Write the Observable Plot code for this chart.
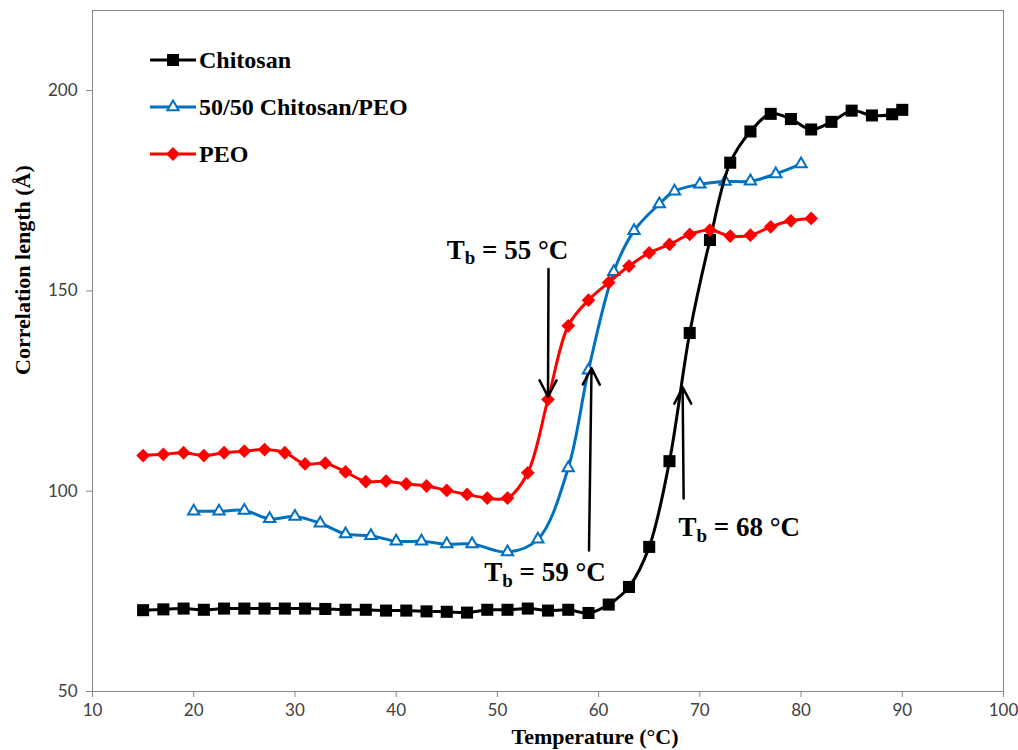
<!DOCTYPE html>
<html><head><meta charset="utf-8">
<script src="https://cdn.jsdelivr.net/npm/d3@7"></script>
<script src="https://cdn.jsdelivr.net/npm/@observablehq/plot@0.6"></script>
<style>
body{margin:0;background:#fff}
#wrap{position:relative;width:1018px;height:750px;overflow:hidden}
.leg{position:absolute;display:flex;align-items:center;height:30px;font-family:"Liberation Serif",serif;font-weight:bold;font-size:24px;color:#000}
.leg svg{display:block}
</style>
</head><body><div id="wrap"></div>
<script>
// ---- data ----
const seriesNames = ["Chitosan", "50/50 Chitosan/PEO", "PEO"];
const seriesColors = ["#000000", "#0070C0", "#FF0000"];

const xChitosan = [15,17,19,21,23,25,27,29,31,33,35,37,39,41,43,45,47,49,51,53,55,57,59,61,63,65,67,69,71,73,75,77,79,81,83,85,87,89,90];
const yChitosan = [70.3,70.5,70.7,70.4,70.7,70.7,70.7,70.7,70.7,70.6,70.4,70.4,70.2,70.2,70.0,69.9,69.7,70.4,70.4,70.7,70.2,70.4,69.6,71.7,76.1,86.1,107.5,139.5,162.7,182.0,189.8,194.2,192.9,190.3,192.2,195.0,193.8,194.1,195.2];

const xBlend = [20,22.5,25,27.5,30,32.5,35,37.5,40,42.5,45,47.5,51,54,57,59,61.5,63.5,66,67.5,70,72.5,75,77.5,80];
const yBlend = [95.0,95.0,95.2,93.1,93.7,92.0,89.3,88.9,87.5,87.5,86.8,86.8,84.8,88.0,105.8,130.2,154.8,165.0,171.7,174.9,176.6,177.3,177.4,179.2,181.7];

const xPEO = [15,17,19,21,23,25,27,29,31,33,35,37,39,41,43,45,47,49,51,53,55,57,59,61,63,65,67,69,71,73,75,77,79,81];
const yPEO = [108.9,109.2,109.6,108.9,109.6,110.0,110.4,109.6,106.8,107.0,104.8,102.4,102.5,101.8,101.3,100.2,99.2,98.3,98.3,104.6,122.9,141.3,147.7,152.1,156.2,159.5,161.6,164.1,165.2,163.7,163.9,166.0,167.5,168.1];

const xTicks = [10,20,30,40,50,60,70,80,90,100];
const yTicks = [50,100,150,200];
const xLabel = "Temperature (°C)";
const yLabel = "Correlation length (Å)";

// annotations (transition temperatures)
const annoTemps = [55, 59, 68];
const annoX = [51.0, 54.7, 73.9];
const annoY = [160.2, 79.7, 90.9];
const arrowX1 = [55.05, 59.05, 68.4];
const arrowY1 = [155.5, 85.2, 98.2];
const arrowX2 = [55.0, 59.3, 68.3];
const arrowY2 = [123.6, 130.7, 125.9];

// ---- build ----
const rows = (xs, ys, name) => xs.map((x, i) => ({x, y: ys[i], name}));
const chit = rows(xChitosan, yChitosan, seriesNames[0]);
const blend = rows(xBlend, yBlend, seriesNames[1]);
const peo = rows(xPEO, yPEO, seriesNames[2]);
const idx = annoTemps.map((_, i) => i);

const serif = "Liberation Serif, Times New Roman, serif";

const chart = Plot.plot({
  width: 1018, height: 750,
  marginLeft: 92, marginRight: 15, marginTop: 10, marginBottom: 59,
  x: {domain: [10, 100]},
  y: {domain: [50, 220]},
  style: {fontFamily: "Lato, sans-serif", fontSize: "17px", background: "#fff", color: "#404040"},
  marks: [
    Plot.frame({stroke: "#868686"}),
    Plot.axisX({ticks: xTicks, tickSize: 6, tickPadding: 6, stroke: "#868686", fill: "#404040", label: null}),
    Plot.axisY({ticks: yTicks, tickSize: 6, tickPadding: 9, stroke: "#868686", fill: "#404040", label: null}),
    Plot.text([yLabel], {text: d => d, frameAnchor: "left", rotate: -90, dx: -70, dy: 24, fontFamily: serif, fontWeight: "bold", fontSize: 22, fill: "#000"}),
    Plot.text([xLabel], {text: d => d, frameAnchor: "bottom", dx: 47, dy: 52, fontFamily: serif, fontWeight: "bold", fontSize: 22, fill: "#000"}),

    Plot.line(blend, {x: "x", y: "y", stroke: seriesColors[1], strokeWidth: 3, curve: "catmull-rom"}),
    Plot.dot(blend, {x: "x", y: "y", symbol: "triangle", r: 4.2, stroke: seriesColors[1], strokeWidth: 2, fill: "#fff"}),
    Plot.line(chit, {x: "x", y: "y", stroke: seriesColors[0], strokeWidth: 3, curve: "catmull-rom"}),
    Plot.dot(chit, {x: "x", y: "y", symbol: "square", r: 6.8, fill: seriesColors[0]}),
    Plot.line(peo, {x: "x", y: "y", stroke: seriesColors[2], strokeWidth: 3, curve: "catmull-rom"}),
    Plot.dot(peo, {x: "x", y: "y", symbol: "diamond2", r: 6.2, fill: seriesColors[2]}),

    Plot.arrow(idx, {x1: i => arrowX1[i], y1: i => arrowY1[i], x2: i => arrowX2[i], y2: i => arrowY2[i], stroke: "#000", strokeWidth: 2.5, headLength: 11, headAngle: 55}),
    Plot.text(idx, {x: i => annoX[i], y: i => annoY[i], text: i => `Tb = ${annoTemps[i]} °C`, fontFamily: serif, fontWeight: "bold", fontSize: 27, fill: "#000"})
  ]
});

// subscript "b" in the T_b annotations
d3.select(chart).selectAll("text").filter(function() { return /^Tb = /.test(this.textContent); })
  .each(function() {
    const rest = this.textContent.slice(2);
    const t = d3.select(this);
    t.text("T");
    t.append("tspan").attr("font-size", "70%").attr("dy", "0.3em").text("b");
    t.append("tspan").attr("dy", "-0.21em").text(rest);
  });

const wrap = document.getElementById("wrap");
wrap.appendChild(chart);

// legend (inside plot area, top-left)
const symbols = [
  {type: d3.symbolSquare, r: 6.8, fill: seriesColors[0], stroke: "none", sw: 0},
  {type: d3.symbolTriangle, r: 4.2, fill: "#fff", stroke: seriesColors[1], sw: 2},
  {type: d3.symbolDiamond2, r: 6.2, fill: seriesColors[2], stroke: "none", sw: 0}
];
seriesNames.forEach((name, i) => {
  const row = d3.select(wrap).append("div").attr("class", "leg")
    .style("left", "150px").style("top", (45 + i * 47) + "px");
  const svg = row.append("svg").attr("width", 46).attr("height", 30);
  svg.append("line").attr("x1", 0).attr("x2", 46).attr("y1", 15).attr("y2", 15)
    .attr("stroke", seriesColors[i]).attr("stroke-width", 3);
  const s = symbols[i];
  svg.append("path").attr("transform", "translate(23,15)")
    .attr("d", d3.symbol(s.type, Math.PI * s.r * s.r)())
    .attr("fill", s.fill).attr("stroke", s.stroke).attr("stroke-width", s.sw);
  row.append("span").style("margin-left", "3px").text(name);
});
</script>
</body></html>
